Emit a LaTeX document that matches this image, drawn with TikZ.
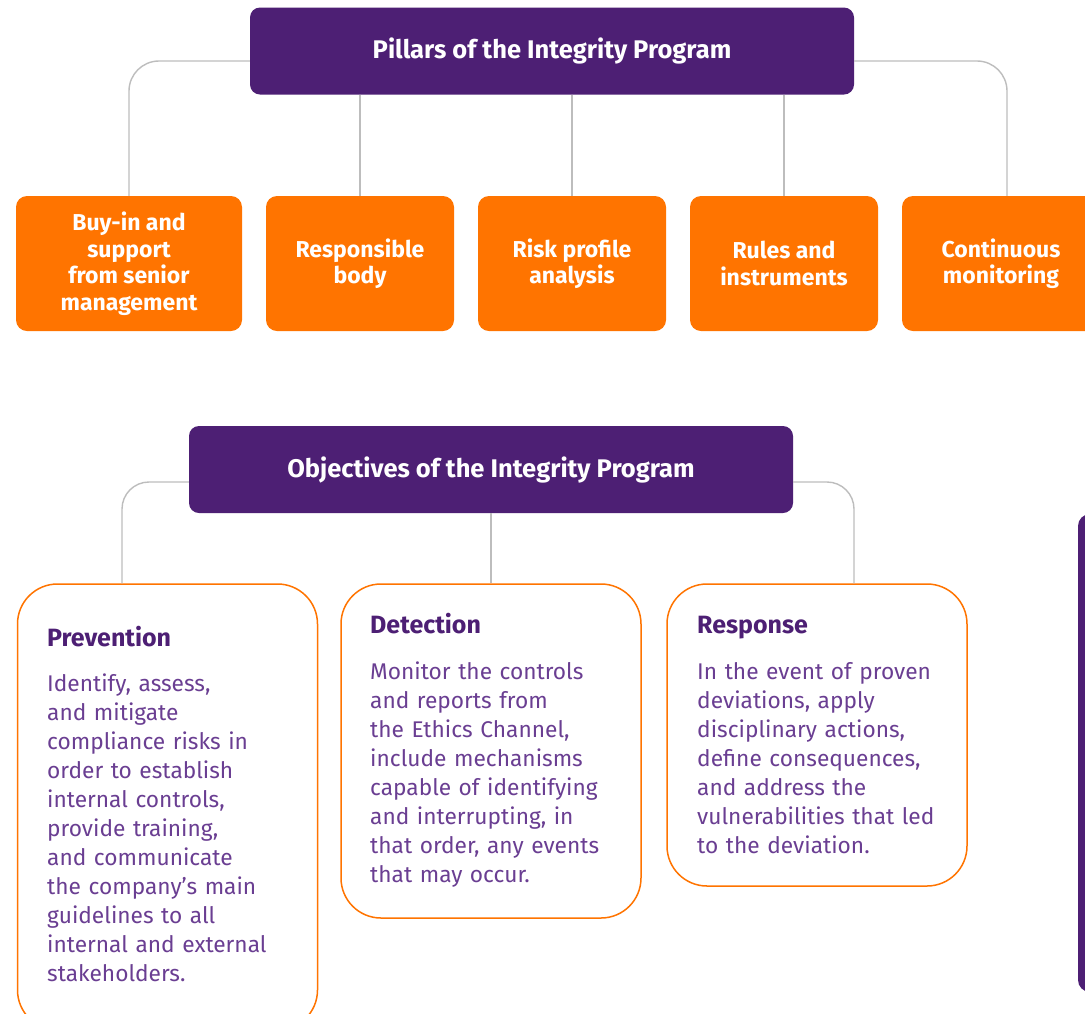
\documentclass[tikz,border=0pt]{standalone}
\usepackage{fontspec}
\setmainfont{Fira Sans}
\usepackage{tikz}

\definecolor{intpurple}{HTML}{4D1F74}
\definecolor{intorange}{HTML}{FF7400}
\definecolor{bodypurple}{HTML}{6A3E92}
\definecolor{linkgray}{HTML}{BDBDBD}

\tikzset{
  header/.style={fill=intpurple, rounded corners=10pt, text=white, inner sep=0pt,
    font=\bfseries\fontsize{25.5}{30}\selectfont, minimum width=604pt, minimum height=87pt},
  pillar/.style={fill=intorange, rounded corners=11pt, text=white, align=center, inner sep=0pt,
    font=\bfseries\fontsize{23}{26.5}\selectfont, minimum height=135pt},
  goal/.style={draw=intorange, line width=1.5pt, fill=white, rounded corners=40pt,
    inner sep=0pt, minimum width=300pt},
  goaltitle/.style={anchor=base west, inner sep=0pt, text=intpurple,
    font=\bfseries\fontsize{25}{29}\selectfont},
  goaltext/.style={anchor=base west, inner sep=0pt, text=bodypurple, text width=280pt,
    align=left, font=\fontsize{22.7}{29}\selectfont},
  link/.style={draw=linkgray, line width=1.4pt, rounded corners=30pt},
}

\begin{document}
\begin{tikzpicture}[x=1pt,y=-1pt]

\useasboundingbox (0,0) rectangle (1085,1013);
\fill[white] (0,0) rectangle (1085,1013);
\clip (0,0) rectangle (1085,1013);

% pillars
\node[header] (pillars) at (552,51) {Pillars of the Integrity Program};

\node[pillar, minimum width=226pt] (buyin) at (129,263.5) {Buy-in and\\support\\from senior\\management};
\node[pillar, minimum width=188pt] (body) at (360,263.5) {Responsible\\body};
\node[pillar, minimum width=188pt] (risk) at (572,263.5) {Risk profile\\analysis};
\node[pillar, minimum width=188pt] (rules) at (784,263.5) {Rules and\\instruments};
\node[pillar, minimum width=198pt] (monitor) at (1001,263.5) {Continuous\\monitoring};

\draw[link] ([yshift=-10pt]pillars.west) -| (buyin.north);
\draw[link] (pillars.south -| body.north) -- (body.north);
\draw[link] (pillars.south -| risk.north) -- (risk.north);
\draw[link] (pillars.south -| rules.north) -- (rules.north);
\draw[link] ([yshift=-10pt]pillars.east) -| ([xshift=6pt]monitor.north);

% objectives
\node[header] (objectives) at (491,469.5) {Objectives of the Integrity Program};

\node[goal, minimum height=446pt] (prevention) at (167.5,807) {};
\node[goal, minimum height=334pt] (detection) at (491,751) {};
\node[goal, minimum height=302pt] (response) at (817,735) {};

\draw[link, rounded corners=27pt] ([yshift=-12.5pt]objectives.west) -| ([xshift=-45.5pt]prevention.north);
\draw[link] (objectives.south) -- (detection.north);
\draw[link, rounded corners=27pt] ([yshift=-12.5pt]objectives.east) -| ([xshift=37pt]response.north);

\node[goaltitle] (prevtitle) at (47,646) {Prevention};
\node[goaltext] (prevtext) at (47,691) {Identify, assess,\\and mitigate\\compliance risks in\\order to establish\\internal controls,\\provide training,\\and communicate\\the company’s main\\guidelines to all\\internal and external\\stakeholders.};

\node[goaltitle] (dettitle) at (370,633) {Detection};
\node[goaltext] (dettext) at (370,679) {Monitor the controls\\and reports from\\the Ethics Channel,\\include mechanisms\\capable of identifying\\and interrupting, in\\that order, any events\\that may occur.};

\node[goaltitle] (resptitle) at (697,633) {Response};
\node[goaltext] (resptext) at (697,679) {In the event of proven\\deviations, apply\\disciplinary actions,\\define consequences,\\and address the\\vulnerabilities that led\\to the deviation.};

\fill[intpurple, rounded corners=12pt] (1078,514) rectangle (1140,992);

\end{tikzpicture}
\end{document}
